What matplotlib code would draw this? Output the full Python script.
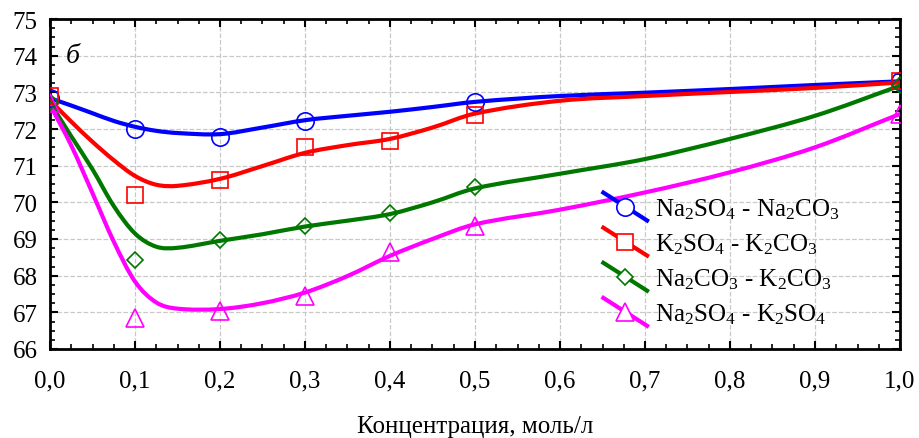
import matplotlib
matplotlib.use("Agg")
import matplotlib.pyplot as plt
from matplotlib.lines import Line2D
from matplotlib.legend_handler import HandlerLine2D
from matplotlib.ticker import MultipleLocator, FuncFormatter
from matplotlib.path import Path
from matplotlib.patches import PathPatch

plt.rcParams['font.family'] = ['Liberation Serif', 'DejaVu Serif']
plt.rcParams['mathtext.fontset'] = 'custom'
plt.rcParams['mathtext.rm'] = 'Liberation Serif'
plt.rcParams['mathtext.it'] = 'Liberation Serif:italic'

# ---- data ----
labels = [r'Na$\mathregular{_2}$SO$\mathregular{_4}$ - Na$\mathregular{_2}$CO$\mathregular{_3}$',
          r'K$\mathregular{_2}$SO$\mathregular{_4}$ - K$\mathregular{_2}$CO$\mathregular{_3}$',
          r'Na$\mathregular{_2}$CO$\mathregular{_3}$ - K$\mathregular{_2}$CO$\mathregular{_3}$',
          r'Na$\mathregular{_2}$SO$\mathregular{_4}$ - K$\mathregular{_2}$SO$\mathregular{_4}$']
colors = ['#0000ff', '#ff0000', '#007800', '#ff00ff']
markers = ['o', 's', 'D', '^']

# measured points
x_na2so4_na2co3 = [0.0, 0.1, 0.2, 0.3, 0.5, 1.0]
y_na2so4_na2co3 = [72.85, 72.0, 71.77, 72.23, 72.73, 73.3]
x_k2so4_k2co3 = [0.0, 0.1, 0.2, 0.3, 0.4, 0.5, 1.0]
y_k2so4_k2co3 = [72.9, 70.2, 70.6, 71.52, 71.68, 72.38, 73.3]
x_na2co3_k2co3 = [0.0, 0.1, 0.2, 0.3, 0.4, 0.5, 1.0]
y_na2co3_k2co3 = [72.75, 68.42, 68.97, 69.36, 69.7, 70.42, 73.2]
x_na2so4_k2so4 = [0.0, 0.1, 0.2, 0.3, 0.4, 0.5, 1.0]
y_na2so4_k2so4 = [72.7, 66.85, 67.05, 67.45, 68.64, 69.36, 72.4]

# fitted curves
curve_x = [0.0, 0.025, 0.05, 0.075, 0.1, 0.125, 0.15, 0.2, 0.25, 0.3, 0.35,
           0.4, 0.45, 0.5, 0.6, 0.7, 0.8, 0.9, 1.0]
curve_na2so4_na2co3 = [72.84, 72.64, 72.43, 72.22, 72.06, 71.95, 71.89, 71.86, 72.04,
                       72.24, 72.36, 72.47, 72.6, 72.74, 72.9, 72.99, 73.09, 73.2, 73.3]
curve_k2so4_k2co3 = [72.78, 72.2, 71.65, 71.15, 70.72, 70.48, 70.45, 70.64, 70.99,
                     71.35, 71.56, 71.73, 72.04, 72.42, 72.77, 72.9, 73.01, 73.12, 73.27]
curve_na2co3_k2co3 = [72.72, 71.8, 70.9, 69.9, 69.15, 68.79, 68.76, 68.95, 69.13,
                      69.34, 69.5, 69.68, 70.0, 70.38, 70.78, 71.18, 71.73, 72.36, 73.18]
curve_na2so4_k2so4 = [72.66, 71.55, 70.25, 68.93, 67.84, 67.27, 67.1, 67.09, 67.25,
                      67.54, 67.99, 68.54, 69.0, 69.4, 69.8, 70.27, 70.82, 71.5, 72.41]

xticks = [0.0, 0.1, 0.2, 0.3, 0.4, 0.5, 0.6, 0.7, 0.8, 0.9, 1.0]
yticks = [66, 67, 68, 69, 70, 71, 72, 73, 74, 75]

points = [(x_na2so4_na2co3, y_na2so4_na2co3), (x_k2so4_k2co3, y_k2so4_k2co3),
          (x_na2co3_k2co3, y_na2co3_k2co3), (x_na2so4_k2so4, y_na2so4_k2so4)]
curves = [curve_na2so4_na2co3, curve_k2so4_k2co3, curve_na2co3_k2co3, curve_na2so4_k2so4]
msizes = [12.5, 11, 8, 12.5]


def smooth_path(xs, ys):
    """Cubic Hermite Bezier path through the given points (rendering only)."""
    n = len(xs)
    m = []
    for i in range(n):
        if i == 0:
            m.append((ys[1] - ys[0]) / (xs[1] - xs[0]))
        elif i == n - 1:
            m.append((ys[-1] - ys[-2]) / (xs[-1] - xs[-2]))
        else:
            m.append((ys[i + 1] - ys[i - 1]) / (xs[i + 1] - xs[i - 1]))
    verts = [(xs[0], ys[0])]
    codes = [Path.MOVETO]
    for i in range(n - 1):
        dx = (xs[i + 1] - xs[i]) / 3.0
        verts += [(xs[i] + dx, ys[i] + dx * m[i]),
                  (xs[i + 1] - dx, ys[i + 1] - dx * m[i + 1]),
                  (xs[i + 1], ys[i + 1])]
        codes += [Path.CURVE4] * 3
    return Path(verts, codes)


fig = plt.figure(figsize=(9.2, 4.39), dpi=100)
ax = fig.add_axes([50/920, 89/439, 850/920, 330/439])

handles = []
for (px, py), cy, c, m, ms, lab in zip(points, curves, colors, markers, msizes, labels):
    ax.add_patch(PathPatch(smooth_path(curve_x, cy), facecolor='none', edgecolor=c,
                           lw=3.0, capstyle='round', joinstyle='round', zorder=3))
    ax.plot(px, py, linestyle='none', marker=m, ms=ms, mfc='none', mec=c, mew=1.2, zorder=4)
    handles.append(Line2D([], [], color=c, lw=3.0, marker=m, ms=ms, mfc='white', mec=c, mew=1.2))


class DiagHandler(HandlerLine2D):
    def create_artists(self, legend, orig_handle, xdescent, ydescent, width, height, fontsize, trans):
        x0, x1 = -xdescent, -xdescent + width
        y1, y0 = -ydescent + height * 1.2, -ydescent - height * 0.2
        line = Line2D([x0, x1], [y1, y0], color=orig_handle.get_color(), lw=orig_handle.get_linewidth())
        mk = Line2D([(x0 + x1) / 2], [(y0 + y1) / 2], linestyle='none', marker=orig_handle.get_marker(),
                    ms=orig_handle.get_markersize(), mfc='white', mec=orig_handle.get_color(), mew=1.2)
        line.set_transform(trans)
        mk.set_transform(trans)
        return [line, mk]


ax.legend(handles, labels, handler_map={Line2D: DiagHandler()}, loc='upper left',
          bbox_to_anchor=(0.651, 0.463), frameon=False, fontsize=18, handlelength=1.75,
          handleheight=0.85, handletextpad=0.33, labelspacing=0.42, borderpad=0, borderaxespad=0)

ax.set_xlim(0, 1.0)
ax.set_ylim(66, 75)
ax.set_xticks(xticks)
ax.set_yticks(yticks)
ax.xaxis.set_major_formatter(FuncFormatter(lambda v, p: f"{v:.1f}".replace('.', ',')))
ax.xaxis.set_minor_locator(MultipleLocator(0.025))
ax.yaxis.set_minor_locator(MultipleLocator(0.25))
ax.tick_params(which='both', direction='in', top=True, right=True, labelsize=18, color='black')
ax.tick_params(which='major', length=6, width=1.5)
ax.tick_params(which='minor', length=3.5, width=1.2)
ax.tick_params(axis='x', which='major', pad=15)
ax.tick_params(axis='y', which='major', pad=9)
for s in ax.spines.values():
    s.set_linewidth(2.0)
ax.grid(True, which='major', color='#c8c8c8', linestyle='--', linewidth=0.9, zorder=0)
ax.set_axisbelow(True)
ax.set_xlabel('Концентрация, моль/л', fontsize=18, labelpad=16.5)
ax.text(0.018, 0.89, 'б', transform=ax.transAxes, fontsize=20, style='italic', va='center', ha='left')

fig.savefig('out.png', dpi=100)
